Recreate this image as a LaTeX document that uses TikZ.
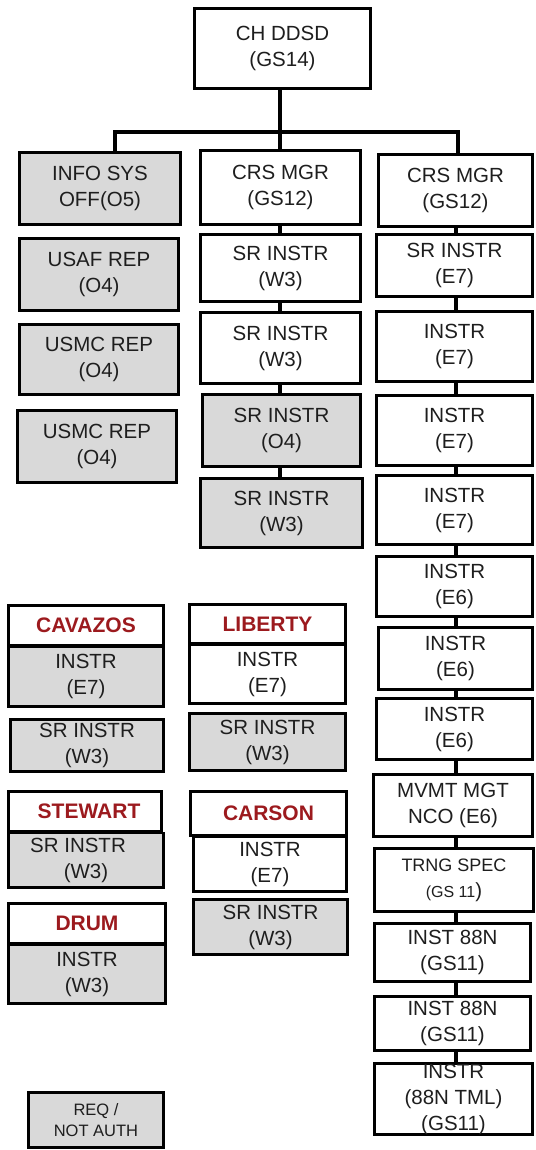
\documentclass[tikz,border=0pt]{standalone}
\usepackage{fontspec}
\setmainfont{Liberation Sans}
\definecolor{hdrred}{RGB}{156,26,30}
\definecolor{reqgray}{RGB}{217,217,217}
\definecolor{txt}{RGB}{30,30,30}
\newcommand{\bx}[7]{%
  \node[#2, minimum width={#5-#3-2.8}, minimum height={#6-#4-2.8}] (#1)
    at ({(#3+#5)/2},{(#4+#6)/2}) {#7};}
\begin{document}
\begin{tikzpicture}[x=1pt,y=-1pt,
  box/.style={draw=black, line width=2.8pt, fill=white, inner sep=0pt,
    align=center, font=\fontsize{20.5}{26}\selectfont, text=txt},
  gbox/.style={box, fill=reqgray},
  hbox/.style={box, font=\fontsize{21}{26}\selectfont\bfseries, text=hdrred},
  lbox/.style={gbox, font=\fontsize{16.5}{21}\selectfont},
  conn/.style={line width=3.2pt, line join=miter}]
\useasboundingbox (0,0) rectangle (535,1150);

% top
\bx{ch}{box}{193}{7}{372}{90}{CH DDSD\\(GS14)}
\bx{info}{gbox}{18}{151}{182}{226}{INFO SYS\\OFF(O5)}
\bx{crs1}{box}{199}{149}{362}{226}{CRS MGR\\(GS12)}
\bx{crs2}{box}{377}{153}{534}{228}{CRS MGR\\(GS12)}

% left column
\bx{usaf}{gbox}{18}{237}{180}{312}{USAF REP\\(O4)}
\bx{usmca}{gbox}{18}{323}{180}{396}{USMC REP\\(O4)}
\bx{usmcb}{gbox}{16}{409}{178}{484}{USMC REP\\(O4)}

% middle column
\bx{m1}{box}{199}{233}{362}{303}{SR INSTR\\(W3)}
\bx{m2}{box}{199}{311}{362}{385}{SR INSTR\\(W3)}
\bx{m3}{gbox}{201}{393}{362}{468}{SR INSTR\\(O4)}
\bx{m4}{gbox}{199}{477}{364}{549}{SR INSTR\\(W3)}

% right column
\bx{r1}{box}{375}{233}{534}{298}{SR INSTR\\(E7)}
\bx{r2}{box}{375}{310}{534}{383}{INSTR\\(E7)}
\bx{r3}{box}{375}{394}{534}{467}{INSTR\\(E7)}
\bx{r4}{box}{375}{474}{534}{546}{INSTR\\(E7)}
\bx{r5}{box}{375}{555}{534}{618}{INSTR\\(E6)}
\bx{r6}{box}{377}{626}{534}{691}{INSTR\\(E6)}
\bx{r7}{box}{375}{697}{534}{761}{INSTR\\(E6)}
\bx{r8}{box}{372}{773}{534}{838}{MVMT MGT\\NCO (E6)}
\bx{r9}{box}{373}{847}{535}{913}{{\fontsize{18}{26}\selectfont TRNG SPEC}\\{\fontsize{16}{26}\selectfont (GS 11}{)}}
\bx{r10}{box}{373}{922}{532}{983}{INST 88N\\(GS11)}
\bx{r11}{box}{373}{995}{532}{1052}{INST 88N\\(GS11)}
\bx{r12}{box}{373}{1062}{534}{1136}{INSTR\\(88N TML)\\(GS11)}

% site groups
\bx{cavh}{hbox}{7}{604}{165}{647}{CAVAZOS}
\bx{cavb}{gbox}{7}{645.5}{165}{708}{INSTR\\(E7)}
\bx{cavs}{gbox}{9}{718}{165}{773}{SR INSTR\\(W3)}

\bx{libh}{hbox}{188}{603}{347}{645}{LIBERTY}
\bx{libb}{box}{188}{643.5}{347}{705}{INSTR\\(E7)}
\bx{libs}{gbox}{188}{712}{347}{772}{SR INSTR\\(W3)}

\bx{stwh}{hbox}{7}{790}{163}{833}{\hspace*{8pt}STEWART}
\bx{stwb}{gbox}{7}{831.5}{165}{889}{SR INSTR\hspace*{16pt}\\(W3)}

\bx{drmh}{hbox}{7}{902}{167}{945}{DRUM}
\bx{drmb}{gbox}{7}{943.5}{167}{1005}{INSTR\\(W3)}

\bx{carh}{hbox}{189}{790}{348}{837}{CARSON}
\bx{carb}{box}{192}{835.5}{348}{893}{INSTR\\(E7)}
\bx{cars}{gbox}{192}{898}{349}{956}{SR INSTR\\(W3)}

% legend
\bx{legend}{lbox}{27}{1091}{165}{1149}{REQ /\\NOT AUTH}

% connectors
\coordinate (jm) at (280,132);
\coordinate (jl) at (115,132);
\coordinate (jr) at (458,132);
\coordinate (rx) at (456,0);
\draw[conn] (ch.south -| jm) -- (jm);
\draw[conn] (jl |- info.north) -- (jl) -- (jr) -- (jr |- crs2.north);
\draw[conn] (jm) -- (jm |- crs1.north);
\foreach \a/\b in {crs1/m1,m1/m2,m2/m3,m3/m4}
  \draw[conn] (\a.south -| jm) -- (\b.north -| jm);
\foreach \a/\b in {crs2/r1,r1/r2,r2/r3,r3/r4,r4/r5,r5/r6,r6/r7,r7/r8,r8/r9,r9/r10,r10/r11,r11/r12}
  \draw[conn] (\a.south -| rx) -- (\b.north -| rx);
\end{tikzpicture}
\end{document}
